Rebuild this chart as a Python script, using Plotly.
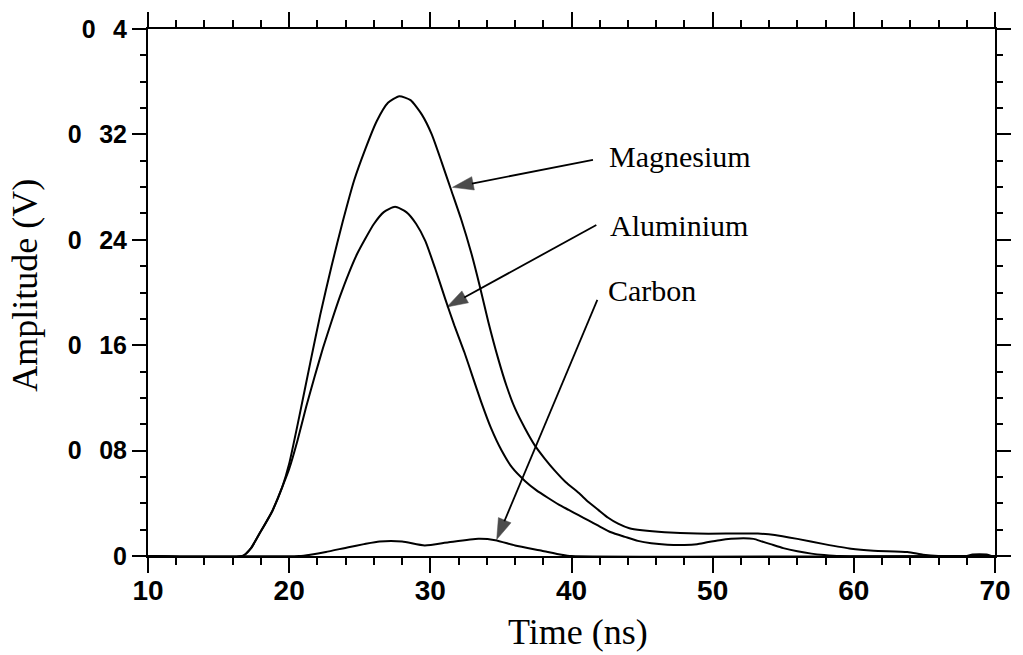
import plotly.graph_objects as go

# Time axis (ns) and amplitude (V) for each target material
mg_t = [10, 16.7, 17.3, 17.9, 18.8, 19.5, 20.0, 20.7, 21.5, 22.2, 23.0, 23.8, 24.6, 25.4,
        26.2, 27.0, 27.8, 28.6, 29.4, 30.1, 30.8, 31.5, 32.2, 32.9, 33.5, 34.1, 34.8, 35.4,
        36.0, 36.7, 37.4, 38.1, 38.8, 39.6, 40.5, 41.2, 41.9, 42.6, 43.3, 44.1, 45.0, 46.6,
        48.9, 51.5, 53.2, 54.4, 56.0, 57.9, 59.8, 61.4, 63.8, 64.9, 66.0, 68.0, 68.4, 69.4,
        69.8, 70]
mg_v = [0, 0, 0.006, 0.017, 0.034, 0.052, 0.070, 0.105, 0.147, 0.183, 0.220, 0.254, 0.285, 0.309,
        0.330, 0.344, 0.349, 0.346, 0.335, 0.320, 0.299, 0.277, 0.255, 0.230, 0.205, 0.178, 0.150, 0.129,
        0.112, 0.097, 0.084, 0.074, 0.065, 0.056, 0.048, 0.041, 0.035, 0.029, 0.0245, 0.021, 0.0195, 0.018,
        0.017, 0.017, 0.017, 0.016, 0.013, 0.009, 0.0055, 0.004, 0.003, 0.001, 0, 0, 0.0012, 0.0012,
        0, 0]

al_t = [10, 16.7, 17.3, 17.9, 18.8, 19.5, 20.0, 20.6, 21.2, 21.8, 22.4, 23.0, 23.6, 24.2,
        24.8, 25.4, 26.0, 26.7, 27.5, 28.3, 29.0, 29.65, 30.35, 31.06, 31.7, 32.4, 33.0, 33.6,
        34.3, 35.05, 35.8, 36.7, 37.5, 38.35, 39.1, 39.8, 40.5, 41.2, 41.9, 42.8, 43.8, 44.7,
        45.65, 46.8, 48.0, 48.9, 49.6, 50.5, 51.3, 52.2, 52.9, 53.5, 54.1, 55.0, 56.0, 57.0,
        57.9, 59.0, 70]
al_v = [0, 0, 0.006, 0.017, 0.034, 0.052, 0.066, 0.088, 0.113, 0.136, 0.158, 0.178, 0.197, 0.214,
        0.229, 0.241, 0.252, 0.261, 0.265, 0.261, 0.252, 0.239, 0.218, 0.195, 0.175, 0.155, 0.136, 0.117,
        0.097, 0.080, 0.067, 0.057, 0.050, 0.044, 0.039, 0.035, 0.031, 0.027, 0.023, 0.018, 0.0145, 0.0115,
        0.0097, 0.0086, 0.0084, 0.009, 0.0104, 0.012, 0.013, 0.0135, 0.013, 0.011, 0.009, 0.006, 0.0036, 0.0018,
        0.0008, 0, 0]

c_t = [10, 20.7, 21.5, 22.6, 24.2, 25.3, 26.4, 28.0, 29.6, 31.3, 33.4, 34.6, 36.0, 37.9,
       39.3, 40.0, 70]
c_v = [0, 0, 0.001, 0.003, 0.0067, 0.009, 0.011, 0.011, 0.008, 0.0104, 0.013, 0.012, 0.008, 0.004,
       0.001, 0, 0]

# Curve labels: name, label position, arrow tail and arrow tip (data units)
labels = ["Magnesium", "Aluminium", "Carbon"]
label_x = [42.52, 42.58, 42.44]
label_y = [0.3035, 0.2512, 0.2019]
tail_x = [41.52, 41.76, 41.83]
tail_y = [0.3006, 0.2512, 0.1944]
tip_x = [31.57, 31.17, 34.70]
tip_y = [0.2798, 0.189, 0.0125]

x_ticks = [10, 20, 30, 40, 50, 60, 70]
y_ticks = [0, 0.08, 0.16, 0.24, 0.32, 0.4]
gap = "\u2002\u2009"
y_ticktext = ["0", "0" + gap + "08", "0" + gap + "16", "0" + gap + "24", "0" + gap + "32", "0" + gap + "4"]

fig = go.Figure()
for t, v, name in [(mg_t, mg_v, "Magnesium"), (al_t, al_v, "Aluminium"), (c_t, c_v, "Carbon")]:
    fig.add_trace(go.Scatter(x=t, y=v, mode="lines", name=name,
                             line=dict(color="black", width=2, shape="spline", smoothing=0.55),
                             showlegend=False, hoverinfo="skip"))

# Pointer arrows from each label to its curve
for i in range(len(labels)):
    fig.add_trace(go.Scatter(x=[tail_x[i], tip_x[i]], y=[tail_y[i], tip_y[i]],
                             mode="lines+markers",
                             line=dict(color="black", width=1.8),
                             marker=dict(symbol="arrow", size=[0, 22], color="black",
                                         angleref="previous",
                                         line=dict(width=0.5, color="black")),
                             showlegend=False, hoverinfo="skip", cliponaxis=False))

for i, name in enumerate(labels):
    fig.add_annotation(x=label_x[i], y=label_y[i], text=name, showarrow=False,
                       xanchor="left", yanchor="middle",
                       font=dict(family="Liberation Serif", size=30, color="black"))

fig.add_annotation(xref="paper", yref="paper", x=0.508, y=-0.144, text="Time (ns)",
                   showarrow=False, xanchor="center", yanchor="middle",
                   font=dict(family="Liberation Serif", size=36, color="black"))
fig.add_annotation(xref="paper", yref="paper", x=-0.1445, y=0.514, text="Amplitude (V)",
                   showarrow=False, xanchor="center", yanchor="middle", textangle=-90,
                   font=dict(family="Liberation Serif", size=36, color="black"))

axis_common = dict(showline=True, linecolor="black", linewidth=2, mirror="ticks",
                   ticks="outside", tickwidth=2, tickcolor="black",
                   showgrid=False, zeroline=False)

fig.update_xaxes(range=[10, 70], tickvals=x_ticks, ticklen=15, ticklabelstandoff=-7,
                 tickfont=dict(family="Liberation Sans", size=28, color="black", weight="bold"),
                 minor=dict(dtick=2, ticklen=7, tickwidth=1.5, ticks="outside",
                            tickcolor="black", showgrid=False),
                 **axis_common)
fig.update_yaxes(range=[0, 0.4], tickvals=y_ticks, ticktext=y_ticktext, ticklen=14,
                 tickfont=dict(family="Liberation Sans", size=25, color="black", weight="bold"),
                 minor=dict(dtick=0.02, ticklen=6, tickwidth=1.5, ticks="outside",
                            tickcolor="black", showgrid=False),
                 **axis_common)

fig.update_layout(width=1023, height=655, margin=dict(l=148, r=24, t=21, b=99),
                  plot_bgcolor="white", paper_bgcolor="white")

fig.write_html("out.html")
